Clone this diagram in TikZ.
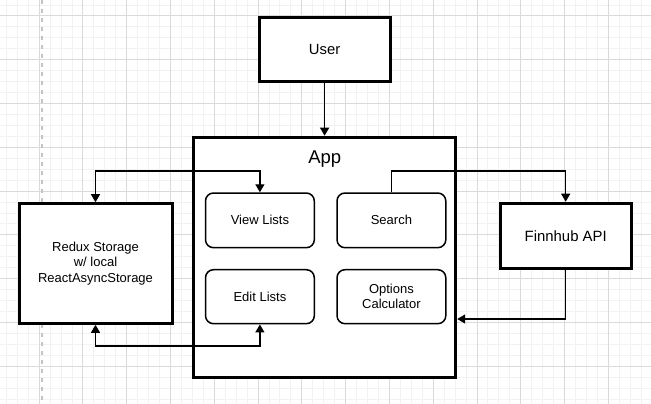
\documentclass[tikz,border=0pt]{standalone}
\usepackage{fontspec}
\setmainfont{Liberation Sans}
\usetikzlibrary{arrows.meta}
\definecolor{gridminor}{HTML}{F2F2F2}
\definecolor{gridmajor}{HTML}{DADADA}
\definecolor{dashcol}{HTML}{C4C4C4}
\begin{document}
\begin{tikzpicture}[x=1pt,y=-1pt,
  thickbox/.style={draw=black, line width=3pt, fill=white, rectangle, inner sep=0pt, align=center},
  roundbox/.style={draw=black, line width=1.5pt, fill=white, rectangle, rounded corners=8pt, inner sep=0pt, align=center},
  txt13/.style={font=\fontsize{13}{15.3}\selectfont},
  conn/.style={draw=black, line width=1.3pt},
  onearrow/.style={conn, -{Triangle[length=8pt,width=9pt]}},
  biarrow/.style={conn, {Triangle[length=8pt,width=9pt]}-{Triangle[length=8pt,width=9pt]}}
]
\useasboundingbox (0,0) rectangle (651,404);
\fill[white] (0,0) rectangle (651,404);
\begin{scope}
  \clip (0,0) rectangle (651,404);
  \foreach \i in {-4,...,56} \draw[gridminor, line width=1pt] ({39.2+10.945*\i},0) -- ({39.2+10.945*\i},404);
  \foreach \j in {-2,...,36} \draw[gridminor, line width=1pt] (0,{16+10.945*\j}) -- (651,{16+10.945*\j});
  \foreach \i in {-1,...,14} \draw[gridmajor, line width=1pt] ({39.2+43.78*\i},0) -- ({39.2+43.78*\i},404);
  \foreach \j in {-1,...,9} \draw[gridmajor, line width=1pt] (0,{16+43.78*\j}) -- (651,{16+43.78*\j});
\end{scope}
\draw[dashcol, line width=1.8pt, dash pattern=on 4pt off 5pt] (41.7,0) -- (41.7,404);

% boxes
\node[thickbox, minimum width=130.8pt, minimum height=64.5pt, font=\fontsize{14.8}{17}\selectfont] (user) at (324.6,49.45) {User};
\node[thickbox, minimum width=261.9pt, minimum height=240pt] (app) at (324.75,257.2) {};
\node[font=\fontsize{18.5}{21}\selectfont] (applabel) at (324.75,159.5) {App};
\node[thickbox, txt13, minimum width=153pt, minimum height=119.6pt] (redux) at (95.5,263.5) {Redux Storage\\w/ local\\ReactAsyncStorage};
\node[thickbox, minimum width=131pt, minimum height=65pt, font=\fontsize{14.9}{17}\selectfont] (finn) at (565.7,235.7) {Finnhub API};
\node[roundbox, txt13, minimum width=108.8pt, minimum height=54.7pt] (vl) at (259.9,220.35) {View Lists};
\node[roundbox, txt13, minimum width=108.8pt, minimum height=54.7pt] (search) at (391.4,220.35) {Search};
\node[roundbox, txt13, minimum width=108.8pt, minimum height=54pt] (el) at (259.9,296.7) {Edit Lists};
\node[roundbox, txt13, minimum width=108.8pt, minimum height=54pt] (opt) at (391.4,296.7) {Options\\Calculator};

% connectors
\draw[onearrow] (user.south) -- (user.south |- app.north);
\draw[biarrow] (redux.north) -- ++(0,-31.2) -| (vl.north);
\draw[biarrow] (redux.south) -- ++(0,21.2) -| (el.south);
\draw[onearrow] (search.north) -- ++(0,-21.25) -| (finn.north);
\draw[onearrow] (finn.south) -- ++(0,49.3) coordinate (fb) -- (fb -| app.east);
\end{tikzpicture}
\end{document}
